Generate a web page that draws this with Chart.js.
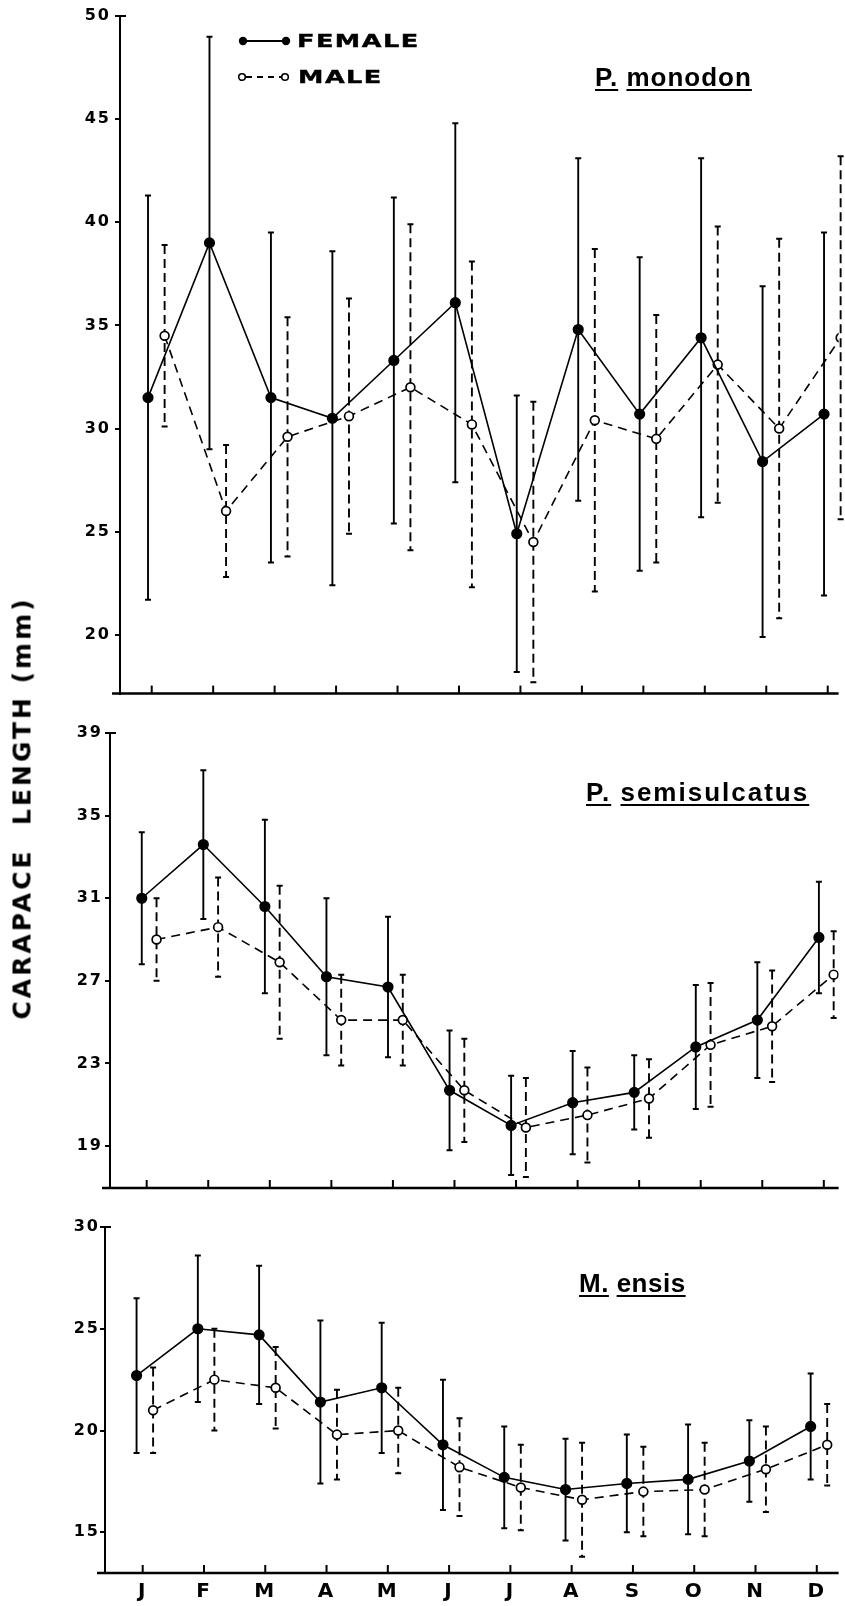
<!DOCTYPE html>
<html>
<head>
<meta charset="utf-8">
<script src="https://cdn.jsdelivr.net/npm/chart.js@4.4.0/dist/chart.umd.min.js"></script>
<style>
body{margin:0;background:#fff;width:845px;height:1606px;position:relative;overflow:hidden}
canvas{position:absolute;left:0}
.sp{position:absolute;font:bold 26px "Liberation Sans";line-height:26px;white-space:nowrap;color:#000}
.sp span{text-decoration:underline;text-decoration-thickness:2px;text-underline-offset:3px}
.lg{position:absolute;font:bold 17px "DejaVu Sans";line-height:17px;letter-spacing:1px;transform:scaleX(1.5);transform-origin:left center;white-space:nowrap;-webkit-text-stroke:0.4px #000}
#ytitle{position:absolute;left:22px;top:808px;transform:translate(-50%,-50%) rotate(-90deg);font:bold 25px "DejaVu Sans";line-height:25px;letter-spacing:3px;white-space:nowrap}
</style>
</head>
<body>
<canvas id="c1" width="845" height="700" style="top:0"></canvas>
<canvas id="c2" width="845" height="500" style="top:700px"></canvas>
<canvas id="c3" width="845" height="406" style="top:1200px"></canvas>

<svg style="position:absolute;left:236px;top:32px" width="58" height="52">
  <line x1="7" y1="9" x2="50" y2="9" stroke="#000" stroke-width="2"/>
  <circle cx="7" cy="9" r="4.2" fill="#000"/>
  <circle cx="50" cy="9" r="4.2" fill="#000"/>
  <line x1="10" y1="45" x2="46" y2="45" stroke="#000" stroke-width="1.8" stroke-dasharray="6 5"/>
  <circle cx="6" cy="45" r="3.3" fill="#fff" stroke="#000" stroke-width="1.6"/>
  <circle cx="49" cy="45" r="3.3" fill="#fff" stroke="#000" stroke-width="1.6"/>
</svg>
<div class="lg" style="left:297px;top:33px">FEMALE</div>
<div class="lg" style="left:298px;top:69px">MALE</div>

<div class="sp" style="left:595px;top:64px;letter-spacing:1px"><span>P.</span> <span>monodon</span></div>
<div class="sp" style="left:586px;top:779px;letter-spacing:2px"><span>P.</span> <span>semisulcatus</span></div>
<div class="sp" style="left:579px;top:1270px;letter-spacing:0.5px"><span>M.</span> <span>ensis</span></div>

<div id="ytitle">CARAPACE&nbsp; LENGTH (mm)</div>

<script>
const months = ['J','F','M','A','M','J','J','A','S','O','N','D'];

// P. monodon
const monodonTicks = [20,25,30,35,40,45,50];
const monodonFemale = [31.5, 39.0, 31.5, 30.5, 33.3, 36.1, 24.9, 34.8, 30.7, 34.4, 28.4, 30.7];
const monodonFemaleSd = [9.8, 10.0, 8.0, 8.1, 7.9, 8.7, 6.7, 8.3, 7.6, 8.7, 8.5, 8.8];
const monodonMale = [34.5, 26.0, 29.6, 30.6, 32.0, 30.2, 24.5, 30.4, 29.5, 33.1, 30.0, 34.4];
const monodonMaleSd = [4.4, 3.2, 5.8, 5.7, 7.9, 7.9, 6.8, 8.3, 6.0, 6.7, 9.2, 8.8];

// P. semisulcatus
const semiTicks = [19,23,27,31,35,39];
const semiFemale = [31.0, 33.6, 30.6, 27.2, 26.7, 21.7, 20.0, 21.1, 21.6, 23.8, 25.1, 29.1];
const semiFemaleSd = [3.2, 3.6, 4.2, 3.8, 3.4, 2.9, 2.4, 2.5, 1.8, 3.0, 2.8, 2.7];
const semiMale = [29.0, 29.6, 27.9, 25.1, 25.1, 21.7, 19.9, 20.5, 21.3, 23.9, 24.8, 27.3];
const semiMaleSd = [2.0, 2.4, 3.7, 2.2, 2.2, 2.5, 2.4, 2.3, 1.9, 3.0, 2.7, 2.1];

// M. ensis
const ensisTicks = [15,20,25,30];
const ensisFemale = [22.7, 25.0, 24.7, 21.4, 22.1, 19.3, 17.7, 17.1, 17.4, 17.6, 18.5, 20.2];
const ensisFemaleSd = [3.8, 3.6, 3.4, 4.0, 3.2, 3.2, 2.5, 2.5, 2.4, 2.7, 2.0, 2.6];
const ensisMale = [21.0, 22.5, 22.1, 19.8, 20.0, 18.2, 17.2, 16.6, 17.0, 17.1, 18.1, 19.3];
const ensisMaleSd = [2.1, 2.5, 2.0, 2.2, 2.1, 2.4, 2.1, 2.8, 2.2, 2.3, 2.1, 2.0];

// mean +/- sd bars, drawn under the markers
const errorBars = {
  id: 'errorBars',
  beforeDatasetsDraw(chart) {
    const ctx = chart.ctx, y = chart.scales.y;
    chart.data.datasets.forEach((ds, i) => {
      const meta = chart.getDatasetMeta(i);
      ctx.save();
      ctx.strokeStyle = '#000';
      meta.data.forEach((pt, j) => {
        const m = ds.data[j].y, s = ds.sd[j];
        const top = y.getPixelForValue(m + s), bot = y.getPixelForValue(m - s);
        ctx.lineWidth = 1.9;
        ctx.setLineDash(ds.barDash);
        ctx.beginPath(); ctx.moveTo(pt.x, top); ctx.lineTo(pt.x, bot); ctx.stroke();
        ctx.setLineDash([]);
        ctx.lineWidth = 2;
        ctx.beginPath();
        ctx.moveTo(pt.x - 3, top); ctx.lineTo(pt.x + 3, top);
        ctx.moveTo(pt.x - 3, bot); ctx.lineTo(pt.x + 3, bot);
        ctx.stroke();
      });
      ctx.restore();
    });
  }
};

// x baseline with inward month ticks, hook at the top of the y axis
const axisMarks = {
  id: 'axisMarks',
  beforeDraw(chart) { chart.ctx.letterSpacing = '2px'; },
  afterDraw(chart) {
    const ctx = chart.ctx, a = chart.chartArea, x = chart.scales.x;
    ctx.save();
    ctx.strokeStyle = '#000';
    ctx.lineWidth = 2.5;
    ctx.beginPath(); ctx.moveTo(a.left - 8, a.bottom); ctx.lineTo(a.right, a.bottom); ctx.stroke();
    ctx.lineWidth = 2;
    x.ticks.forEach(t => {
      const px = x.getPixelForValue(t.value);
      ctx.beginPath(); ctx.moveTo(px, a.bottom); ctx.lineTo(px, a.bottom - 8); ctx.stroke();
    });
    ctx.beginPath(); ctx.moveTo(a.left, a.top); ctx.lineTo(a.left + 6, a.top); ctx.stroke();
    ctx.restore();
  }
};

function panel(id, p) {
  return new Chart(document.getElementById(id), {
    type: 'line',
    data: {
      datasets: [{
        label: 'FEMALE',
        data: p.female.map((v, i) => ({x: i + 1 + p.fShift, y: v})),
        sd: p.femaleSd,
        barDash: [],
        borderColor: '#000',
        borderWidth: 1.6,
        tension: 0,
        pointRadius: 4.8,
        pointBackgroundColor: '#000',
        pointBorderColor: '#000'
      }, {
        label: 'MALE',
        data: p.male.map((v, i) => ({x: i + 1 + p.mShift, y: v})),
        sd: p.maleSd,
        barDash: [9, 5],
        borderColor: '#000',
        borderWidth: 1.6,
        borderDash: [9, 6],
        tension: 0,
        pointRadius: 4.4,
        pointBorderWidth: 1.7,
        pointBackgroundColor: '#fff',
        pointBorderColor: '#000'
      }]
    },
    options: {
      responsive: false,
      animation: false,
      layout: {padding: {top: p.top, left: 0, right: 0, bottom: 0}},
      plugins: {legend: {display: false}, tooltip: {enabled: false}},
      scales: {
        x: {
          type: 'linear',
          min: p.xMin, max: p.xMax,
          afterBuildTicks: s => { s.ticks = months.map((m, i) => ({value: i + 1})); },
          ticks: {
            display: p.showMonths,
            callback: v => months[v - 1],
            font: {family: 'DejaVu Sans', size: 20, weight: 'bold'},
            color: '#000',
            padding: 7,
            autoSkip: false,
            maxRotation: 0
          },
          grid: {display: false, drawTicks: false},
          border: {display: false},
          afterFit: s => { s.height = p.xHeight; s.paddingLeft = 0; s.paddingRight = 0; }
        },
        y: {
          min: p.yMin, max: p.yMax,
          afterBuildTicks: s => { s.ticks = p.yTicks.map(v => ({value: v})); },
          ticks: {
            font: {family: 'DejaVu Sans', size: 16, weight: 'bold'},
            color: '#000',
            padding: p.labelPad
          },
          grid: {drawOnChartArea: false, drawTicks: true, tickLength: 5, color: '#000', lineWidth: 2},
          border: {display: true, color: '#000', width: 2},
          afterFit: s => { s.width = p.axisX; s.paddingTop = 0; s.paddingBottom = 0; }
        }
      }
    },
    plugins: [errorBars, axisMarks]
  });
}

panel('c1', {
  female: monodonFemale, femaleSd: monodonFemaleSd, male: monodonMale, maleSd: monodonMaleSd,
  yTicks: monodonTicks, yMin: 17.15, yMax: 50,
  xMin: 0.484, xMax: 12.177, fShift: -0.06, mShift: 0.21,
  top: 16, xHeight: 5, axisX: 120, labelPad: 4, showMonths: false
});
panel('c2', {
  female: semiFemale, femaleSd: semiFemaleSd, male: semiMale, maleSd: semiMaleSd,
  yTicks: semiTicks, yMin: 16.97, yMax: 39,
  xMin: 0.404, xMax: 12.24, fShift: -0.08, mShift: 0.16,
  top: 33, xHeight: 12, axisX: 110, labelPad: 2, showMonths: false
});
panel('c3', {
  female: ensisFemale, femaleSd: ensisFemaleSd, male: ensisMale, maleSd: ensisMaleSd,
  yTicks: ensisTicks, yMin: 13, yMax: 30,
  xMin: 0.385, xMax: 12.356, fShift: -0.1, mShift: 0.17,
  top: 27, xHeight: 33, axisX: 105, labelPad: 0, showMonths: true
});
</script>
</body>
</html>
